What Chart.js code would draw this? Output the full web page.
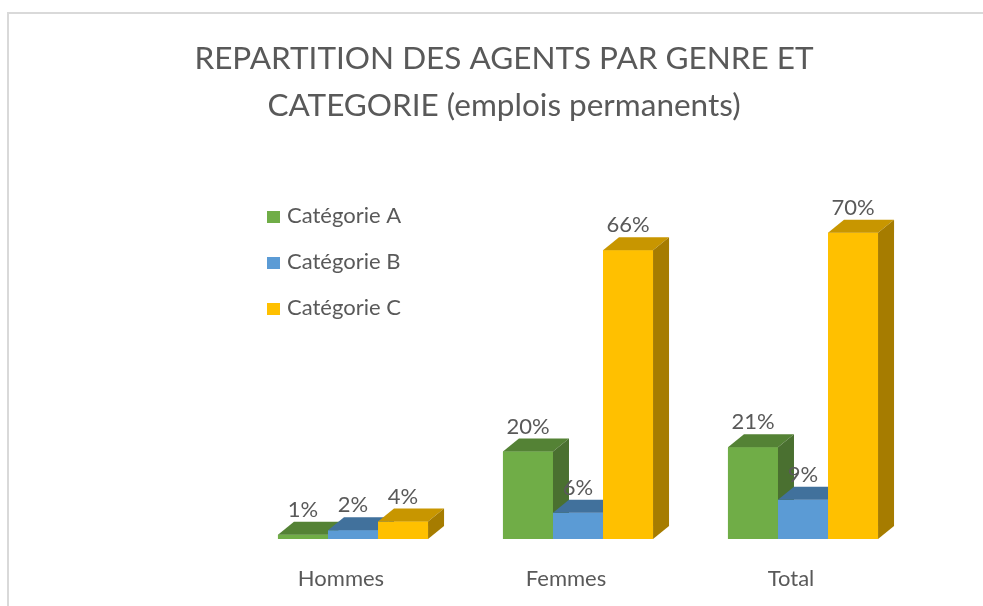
<!DOCTYPE html>
<html>
<head>
<meta charset="utf-8">
<script src="https://cdn.jsdelivr.net/npm/chart.js@4/dist/chart.umd.min.js"></script>
<style>
  html, body { margin: 0; padding: 0; background: #ffffff; }
  #wrap { position: relative; width: 983px; height: 606px; }
</style>
</head>
<body>
<div id="wrap"><canvas id="c" width="983" height="606"></canvas></div>
<script>
// ---- Data ----
const categories = ['Hommes', 'Femmes', 'Total'];
const seriesNames = ['Catégorie A', 'Catégorie B', 'Catégorie C'];
const categorieA = [1, 20, 21];
const categorieB = [2, 6, 9];
const categorieC = [4, 66, 70];
const titleLines = ['REPARTITION DES AGENTS PAR GENRE ET', 'CATEGORIE (emplois permanents)'];

// ---- Styles ----
const frontColors = ['#70AD47', '#5B9BD5', '#FFC000'];
const topColors   = ['#548235', '#41719C', '#C89600'];
const sideColors  = ['#4A7030', '#3A6590', '#A67C00'];
const textColor = '#595959';
const FONT = 'Lato';
const DX = 16, DY = -13;

function poly(ctx, pts, color) {
  ctx.beginPath();
  ctx.moveTo(pts[0][0], pts[0][1]);
  for (let i = 1; i < pts.length; i++) ctx.lineTo(pts[i][0], pts[i][1]);
  ctx.closePath();
  ctx.fillStyle = color;
  ctx.fill();
}

const framePlugin = {
  id: 'frame',
  beforeDraw(chart) {
    const ctx = chart.ctx;
    ctx.save();
    ctx.fillStyle = '#ffffff';
    ctx.fillRect(0, 0, chart.width, chart.height);
    ctx.fillStyle = '#d9d9d9';
    ctx.fillRect(7, 12, chart.width - 7, 2);
    ctx.fillRect(7, 12, 2, chart.height - 12);
    ctx.restore();
  }
};

const bar3dPlugin = {
  id: 'bar3d',
  afterDatasetsDraw(chart) {
    const ctx = chart.ctx;
    ctx.save();
    // 3D faces, drawn series by series from left to right so later fronts hide earlier sides
    chart.data.datasets.forEach((ds, i) => {
      chart.getDatasetMeta(i).data.forEach(el => {
        const p = el.getProps(['x', 'y', 'base', 'width'], true);
        const l = p.x - p.width / 2, r = p.x + p.width / 2;
        poly(ctx, [[l, p.y], [r, p.y], [r, p.base], [l, p.base]], frontColors[i]);
        poly(ctx, [[l, p.y], [r, p.y], [r + DX, p.y + DY], [l + DX, p.y + DY]], topColors[i]);
        poly(ctx, [[r, p.y], [r + DX, p.y + DY], [r + DX, p.base + DY], [r, p.base]], sideColors[i]);
      });
    });
    // Data labels
    ctx.font = '22px ' + FONT;
    ctx.fillStyle = textColor;
    ctx.textAlign = 'center';
    ctx.textBaseline = 'alphabetic';
    chart.data.datasets.forEach((ds, i) => {
      chart.getDatasetMeta(i).data.forEach((el, j) => {
        const p = el.getProps(['x', 'y'], true);
        ctx.fillText(ds.data[j] + '%', p.x, p.y + DY - 5);
      });
    });
    ctx.restore();
  },
  afterDraw(chart) {
    const ctx = chart.ctx;
    ctx.save();
    // Title
    ctx.fillStyle = textColor;
    ctx.textAlign = 'center';
    ctx.textBaseline = 'alphabetic';
    ctx.font = '31.5px ' + FONT;
    const tl = chart.options.plugins.title.text;
    ctx.fillText(tl[0], 504, 69);
    ctx.fillText(tl[1], 504, 116);
    // Legend
    ctx.font = '22px ' + FONT;
    ctx.textAlign = 'left';
    chart.data.datasets.forEach((ds, i) => {
      const y0 = 223 + i * 46;
      ctx.fillStyle = frontColors[i];
      ctx.fillRect(267, y0 - 12, 13, 12);
      ctx.fillStyle = textColor;
      ctx.fillText(ds.label, 287, y0);
    });
    ctx.restore();
  }
};

const datasets = [categorieA, categorieB, categorieC].map((d, i) => ({
  label: seriesNames[i],
  data: d,
  backgroundColor: frontColors[i],
  borderWidth: 0,
  barPercentage: 1.0,
  categoryPercentage: 0.667
}));

new Chart(document.getElementById('c'), {
  type: 'bar',
  data: { labels: categories, datasets: datasets },
  options: {
    responsive: false,
    animation: false,
    events: [],
    layout: { padding: { top: 189, left: 240.5, right: 67.5, bottom: 0 } },
    plugins: {
      legend: { display: false },
      title: { display: false, text: titleLines },
      tooltip: { enabled: false }
    },
    scales: {
      x: {
        grid: { display: false, drawTicks: false },
        border: { display: false },
        ticks: {
          color: textColor,
          font: { family: FONT, size: 22 },
          padding: 27,
          labelOffset: -12,
          maxRotation: 0
        },
        afterFit(scale) { scale.height = 67; }
      },
      y: { display: false, min: 0, max: 80 }
    }
  },
  plugins: [framePlugin, bar3dPlugin]
});
</script>
</body>
</html>
